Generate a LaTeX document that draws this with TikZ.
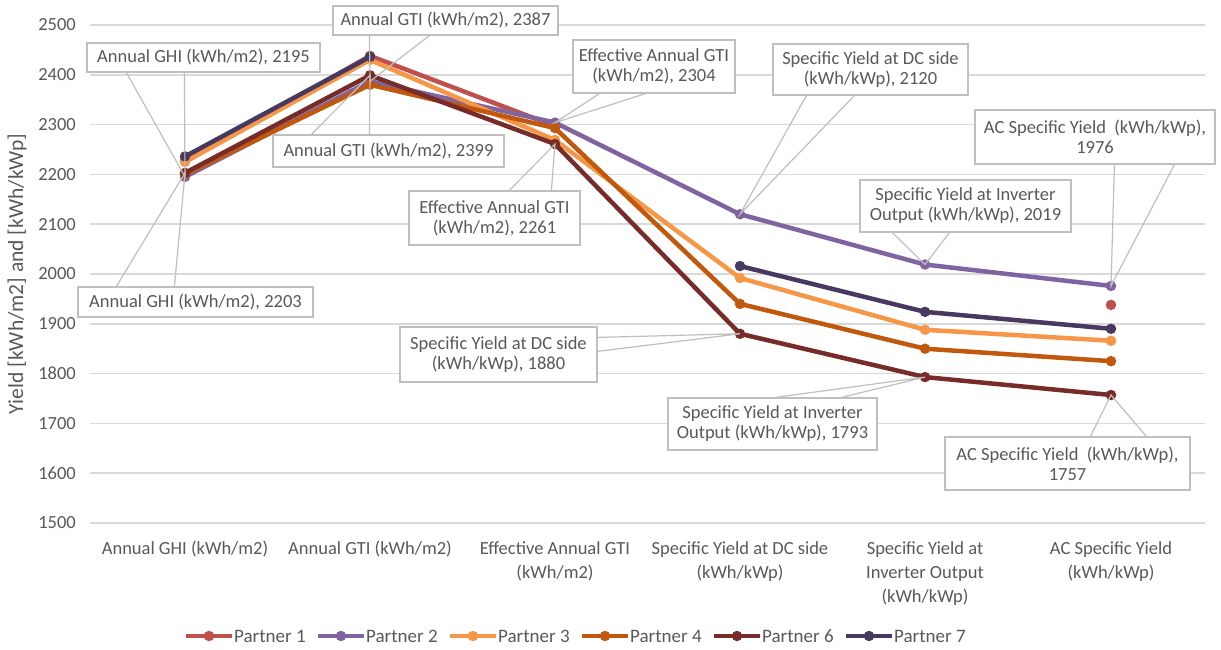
\documentclass[tikz,border=0pt]{standalone}
\usepackage{fontspec}
\setmainfont{Carlito}
\usetikzlibrary{calc}
\definecolor{txt}{HTML}{595959}
\definecolor{gridc}{HTML}{D9D9D9}
\definecolor{cbord}{HTML}{BFBFBF}
\definecolor{pA}{HTML}{C0504D}
\definecolor{pB}{HTML}{8064A2}
\definecolor{pC}{HTML}{F79646}
\definecolor{pD}{HTML}{C0590E}
\definecolor{pF}{HTML}{772C2A}
\definecolor{pG}{HTML}{47395F}
\begin{document}
\begin{tikzpicture}[x=1pt,y=-1pt,
  declare function={vy(\v)=523-(\v-1500)*0.498;},
  gridline/.style={draw=gridc, line width=1.5pt},
  series/.style={line width=4.5pt, line join=round, line cap=round},
  mk/.style={circle, inner sep=0pt, minimum size=10.5pt},
  ticklab/.style={text=txt, anchor=east, inner sep=0pt, font=\fontsize{18.5}{22}\selectfont},
  catlab/.style={text=txt, anchor=north, align=center, inner sep=0pt, font=\fontsize{18.5}{24}\selectfont},
  leglab/.style={text=txt, anchor=west, inner sep=0pt, font=\fontsize{19}{22}\selectfont},
  callout/.style={draw=cbord, line width=1.2pt, fill=white, text=txt, align=center, inner sep=0pt, font=\fontsize{18.5}{20}\selectfont},
  wedge/.style={draw=cbord, line width=1.2pt},
]
\useasboundingbox (0,0) rectangle (1221,650);
\fill[white] (0,0) rectangle (1221,650);

% gridlines and tick labels
\foreach \v in {1500,1600,...,2500}{
  \coordinate (gl\v) at (90,{vy(\v)});
  \coordinate (gr\v) at (1205,{vy(\v)});
  \draw[gridline] (gl\v) -- (gr\v);
  \node[ticklab] (t\v) at (76,{vy(\v)}) {\v};
}

% axis title
\node[text=txt, rotate=90, inner sep=0pt, font=\fontsize{21.5}{24}\selectfont] (ytitle) at (17,274) {Yield [kWh/m2] and [kWh/kWp]};

% category labels
\node[catlab] (cat1) at (185,541) {Annual GHI (kWh/m2)};
\node[catlab] (cat2) at (370,541) {Annual GTI (kWh/m2)};
\node[catlab] (cat3) at (555,541) {Effective Annual GTI\\(kWh/m2)};
\node[catlab] (cat4) at (740,541) {Specific Yield at DC side\\(kWh/kWp)};
\node[catlab] (cat5) at (925,541) {Specific Yield at\\Inverter Output\\(kWh/kWp)};
\node[catlab] (cat6) at (1111,541) {AC Specific Yield\\(kWh/kWp)};

% data coordinates
\coordinate (a1) at (185,{vy(2228)});
\coordinate (a2) at (370,{vy(2438)});
\coordinate (a3) at (555,{vy(2297)});
\coordinate (a6) at (1111,{vy(1938)});

\coordinate (b1) at (185,{vy(2195)});
\coordinate (b2) at (370,{vy(2387)});
\coordinate (b3) at (555,{vy(2304)});
\coordinate (b4) at (740,{vy(2120)});
\coordinate (b5) at (925,{vy(2019)});
\coordinate (b6) at (1111,{vy(1976)});

\coordinate (c1) at (185,{vy(2225)});
\coordinate (c2) at (370,{vy(2430)});
\coordinate (c3) at (555,{vy(2269)});
\coordinate (c4) at (740,{vy(1992)});
\coordinate (c5) at (925,{vy(1888)});
\coordinate (c6) at (1111,{vy(1866)});

\coordinate (d1) at (185,{vy(2200)});
\coordinate (d2) at (370,{vy(2380)});
\coordinate (d3) at (555,{vy(2293)});
\coordinate (d4) at (740,{vy(1940)});
\coordinate (d5) at (925,{vy(1850)});
\coordinate (d6) at (1111,{vy(1825)});

\coordinate (f1) at (185,{vy(2203)});
\coordinate (f2) at (370,{vy(2399)});
\coordinate (f3) at (555,{vy(2261)});
\coordinate (f4) at (740,{vy(1880)});
\coordinate (f5) at (925,{vy(1793)});
\coordinate (f6) at (1111,{vy(1757)});

\coordinate (g1) at (185,{vy(2236)});
\coordinate (g2) at (370,{vy(2436)});
\coordinate (g4) at (740,{vy(2016)});
\coordinate (g5) at (925,{vy(1924)});
\coordinate (g6) at (1111,{vy(1890)});

% series
\draw[series, pA] (a1) -- (a2) -- (a3);
\foreach \p in {a1,a2,a3,a6} \node[mk, fill=pA] (m\p) at (\p) {};
\draw[series, pB] (b1) -- (b2) -- (b3) -- (b4) -- (b5) -- (b6);
\foreach \p in {b1,b2,b3,b4,b5,b6} \node[mk, fill=pB] (m\p) at (\p) {};
\draw[series, pC] (c1) -- (c2) -- (c3) -- (c4) -- (c5) -- (c6);
\foreach \p in {c1,c2,c3,c4,c5,c6} \node[mk, fill=pC] (m\p) at (\p) {};
\draw[series, pD] (d1) -- (d2) -- (d3) -- (d4) -- (d5) -- (d6);
\foreach \p in {d1,d2,d3,d4,d5,d6} \node[mk, fill=pD] (m\p) at (\p) {};
\draw[series, pF] (f1) -- (f2) -- (f3) -- (f4) -- (f5) -- (f6);
\foreach \p in {f1,f2,f3,f4,f5,f6} \node[mk, fill=pF] (m\p) at (\p) {};
\draw[series, pG] (g1) -- (g2);
\draw[series, pG] (g4) -- (g5) -- (g6);
\foreach \p in {g1,g2,g4,g5,g6} \node[mk, fill=pG] (m\p) at (\p) {};

% callouts
\node[callout, minimum width=233pt, minimum height=29pt] (k1) at (203.5,57.5) {Annual GHI (kWh/m2), 2195};
\draw[wedge] ($(k1.south west)+(40,0)$) -- (b1) -- ($(k1.south west)+(98,0)$);

\node[callout, minimum width=235pt, minimum height=30pt] (k2) at (195.5,302) {Annual GHI (kWh/m2), 2203};
\draw[wedge] ($(k2.north west)+(39,0)$) -- (f1) -- ($(k2.north west)+(97,0)$);

\node[callout, minimum width=225pt, minimum height=29pt] (k3) at (445.5,20.5) {Annual GTI (kWh/m2), 2387};
\draw[wedge] ($(k3.south west)+(37,0)$) -- (b2) -- ($(k3.south west)+(97,0)$);

\node[callout, minimum width=231pt, minimum height=32pt] (k4) at (388.5,151) {Annual GTI (kWh/m2), 2399};
\draw[wedge] ($(k4.north west)+(39,0)$) -- (f2) -- ($(k4.north west)+(97,0)$);

\node[callout, minimum width=162pt, minimum height=53pt] (k5) at (654,66.5) {Effective Annual GTI\\(kWh/m2), 2304};
\draw[wedge] ($(k5.south west)+(27,0)$) -- (b3) -- ($(k5.south west)+(73,0)$);

\node[callout, minimum width=171pt, minimum height=54pt] (k6) at (494.5,218) {Effective Annual GTI\\(kWh/m2), 2261};
\draw[wedge] ($(k6.north west)+(101,0)$) -- (f3) -- ($(k6.north west)+(143,0)$);

\node[callout, minimum width=195pt, minimum height=51pt] (k7) at (870.5,69.5) {Specific Yield at DC side\\(kWh/kWp), 2120};
\draw[wedge] ($(k7.south west)+(34,0)$) -- (b4) -- ($(k7.south west)+(82,0)$);

\node[callout, minimum width=197pt, minimum height=55pt] (k8) at (498.5,354.5) {Specific Yield at DC side\\(kWh/kWp), 1880};
\draw[wedge] ($(k8.north east)+(0,11)$) -- (f4) -- ($(k8.north east)+(0,25)$);

\node[callout, minimum width=211pt, minimum height=52pt] (k9) at (965.5,206) {Specific Yield at Inverter\\Output (kWh/kWp), 2019};
\draw[wedge] ($(k9.south west)+(33,0)$) -- (b5) -- ($(k9.south west)+(90,0)$);

\node[callout, minimum width=240pt, minimum height=54pt] (k10) at (1095,137) {AC Specific Yield~ (kWh/kWp),\\1976};
\draw[wedge] ($(k10.south west)+(140,0)$) -- (b6) -- ($(k10.south west)+(200,0)$);

\node[callout, minimum width=209pt, minimum height=52pt] (k11) at (772.5,424) {Specific Yield at Inverter\\Output (kWh/kWp), 1793};
\draw[wedge] ($(k11.north west)+(108,0)$) -- (f5) -- ($(k11.north west)+(174,0)$);

\node[callout, minimum width=245pt, minimum height=53pt] (k12) at (1067.5,463.5) {AC Specific Yield~ (kWh/kWp),\\1757};
\draw[wedge] ($(k12.north west)+(146,0)$) -- (f6) -- ($(k12.north west)+(202,0)$);

% legend
\foreach \s/\c/\lab/\x in {A/pA/Partner 1/186, B/pB/Partner 2/318, C/pC/Partner 3/450, D/pD/Partner 4/582, F/pF/Partner 6/714, G/pG/Partner 7/846}{
  \coordinate (l\s1) at (\x,636);
  \coordinate (l\s2) at (\x+46,636);
  \draw[series, line cap=butt, \c] (l\s1) -- (l\s2);
  \node[mk, fill=\c] (lm\s) at ($(l\s1)!0.5!(l\s2)$) {};
  \node[leglab] (lt\s) at (\x+48,636) {\lab};
}
\end{tikzpicture}
\end{document}
